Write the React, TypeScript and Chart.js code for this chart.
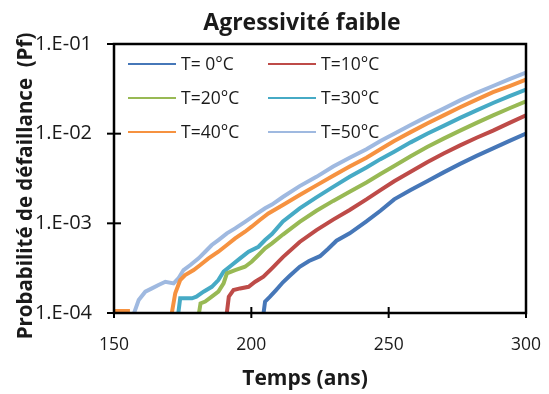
import React, { useEffect, useRef } from 'react';
import { Chart, registerables } from 'chart.js';

Chart.register(...registerables);

const TITLE = 'Agressivité faible';
const X_TITLE = 'Temps (ans)';
const Y_TITLE = 'Probabilité de défaillance  (Pf)';
const SERIES_LABELS = ['T= 0°C', 'T=10°C', 'T=20°C', 'T=30°C', 'T=40°C', 'T=50°C'];
const COLORS = ['#4677B8', '#BE4B48', '#98B954', '#46AAC5', '#F69240', '#9FB9E0'];
const X_TICKS = [150, 200, 250, 300];
const Y_TICKS = [1e-4, 1e-3, 1e-2, 1e-1];
const Y_TICK_LABELS = ['1.E-04', '1.E-03', '1.E-02', '1.E-01'];

const T0_YEARS = [203.5, 205, 206.8, 209, 211.5, 214, 217.6, 221, 225, 228, 231, 235.8, 241.9, 247, 252, 258, 264, 270, 276, 282, 288, 294, 300];
const T0_PF = [0.6e-4, 1.34e-4, 1.52e-4, 1.8e-4, 2.2e-4, 2.6e-4, 3.28e-4, 3.8e-4, 4.3e-4, 5.2e-4, 6.4e-4, 7.74e-4, 1.05e-3, 1.38e-3, 1.85e-3, 2.35e-3, 2.95e-3, 3.7e-3, 4.6e-3, 5.65e-3, 6.85e-3, 8.3e-3, 1.0e-2];

const T10_YEARS = [190.2, 191.8, 193.5, 195.9, 199, 201.4, 204.4, 207.5, 211.5, 217.6, 223.7, 229.8, 235.8, 241.9, 247, 252, 258, 264, 270, 276, 282, 288, 294, 300];
const T10_PF = [0.6e-4, 1.52e-4, 1.8e-4, 1.88e-4, 1.96e-4, 2.23e-4, 2.54e-4, 3.15e-4, 4.2e-4, 6.2e-4, 8.4e-4, 1.1e-3, 1.41e-3, 1.85e-3, 2.35e-3, 2.95e-3, 3.75e-3, 4.8e-3, 6.0e-3, 7.4e-3, 9.0e-3, 1.08e-2, 1.32e-2, 1.6e-2];

const T20_YEARS = [179.8, 181.5, 183.2, 185.6, 188, 189.9, 191.1, 194.1, 197.7, 200.1, 202.6, 205, 207.5, 211.5, 217.6, 223.7, 229.8, 235.8, 241.9, 247, 252, 258, 264, 270, 276, 282, 288, 294, 300];
const T20_PF = [0.6e-4, 1.28e-4, 1.34e-4, 1.52e-4, 1.73e-4, 2.14e-4, 2.77e-4, 3.01e-4, 3.28e-4, 3.73e-4, 4.43e-4, 5.26e-4, 5.98e-4, 7.5e-4, 1.04e-3, 1.38e-3, 1.78e-3, 2.25e-3, 2.85e-3, 3.55e-3, 4.35e-3, 5.6e-3, 7.1e-3, 8.8e-3, 1.08e-2, 1.32e-2, 1.6e-2, 1.92e-2, 2.3e-2];

const T30_YEARS = [172.5, 174.1, 178.4, 180, 182.6, 185.6, 188, 189.9, 192.9, 195.9, 199, 202.6, 205, 207.5, 211.5, 217.6, 223.7, 229.8, 235.8, 241.9, 247, 252, 258, 264, 270, 276, 282, 288, 294, 300];
const T30_PF = [0.6e-4, 1.46e-4, 1.46e-4, 1.52e-4, 1.73e-4, 1.96e-4, 2.33e-4, 2.89e-4, 3.43e-4, 4.07e-4, 4.82e-4, 5.48e-4, 6.51e-4, 7.6e-4, 1.05e-3, 1.47e-3, 1.95e-3, 2.55e-3, 3.3e-3, 4.2e-3, 5.2e-3, 6.3e-3, 8.0e-3, 1.0e-2, 1.22e-2, 1.5e-2, 1.82e-2, 2.2e-2, 2.62e-2, 3.1e-2];

const T40_YEARS = [150, 155.8, 156, 169.8, 172.3, 174.1, 175.9, 179, 181.4, 184.4, 188, 191.1, 194.1, 197.7, 200.1, 203.1, 206.2, 211.5, 217.6, 223.7, 229.8, 235.8, 241.9, 247, 252, 258, 264, 270, 276, 282, 288, 294, 300];
const T40_PF = [1.05e-4, 1.05e-4, null, 0.6e-4, 1.66e-4, 2.33e-4, 2.65e-4, 3.01e-4, 3.43e-4, 4.07e-4, 4.82e-4, 5.73e-4, 6.8e-4, 8.06e-4, 9.17e-4, 1.09e-3, 1.29e-3, 1.6e-3, 2.07e-3, 2.65e-3, 3.4e-3, 4.3e-3, 5.4e-3, 6.7e-3, 8.3e-3, 1.04e-2, 1.3e-2, 1.6e-2, 1.97e-2, 2.4e-2, 2.9e-2, 3.4e-2, 4.0e-2];

const T50_YEARS = [156.5, 159, 161.4, 163.8, 166.2, 168.7, 171.7, 173.5, 175.3, 177.8, 180.8, 183.2, 185.6, 188, 191.1, 194.1, 197.7, 201.4, 205, 207.5, 211.6, 217.6, 223.7, 229.8, 235.8, 241.9, 247, 252, 258, 264, 270, 276, 282, 288, 294, 300];
const T50_PF = [0.85e-4, 1.4e-4, 1.73e-4, 1.88e-4, 2.05e-4, 2.23e-4, 2.14e-4, 2.44e-4, 3.01e-4, 3.43e-4, 4.07e-4, 4.82e-4, 5.73e-4, 6.51e-4, 7.73e-4, 8.79e-4, 1.04e-3, 1.24e-3, 1.47e-3, 1.62e-3, 1.98e-3, 2.6e-3, 3.3e-3, 4.3e-3, 5.4e-3, 6.7e-3, 8.3e-3, 1.0e-2, 1.25e-2, 1.55e-2, 1.9e-2, 2.35e-2, 2.85e-2, 3.4e-2, 4.05e-2, 4.8e-2];

const SERIES_YEARS = [T0_YEARS, T10_YEARS, T20_YEARS, T30_YEARS, T40_YEARS, T50_YEARS];
const SERIES_PF = [T0_PF, T10_PF, T20_PF, T30_PF, T40_PF, T50_PF];

const FONT = '"Open Sans", Lato, sans-serif';
const TEXT_COLOR = '#1a1a1a';

const overlayPlugin = {
  id: 'overlay',
  afterDatasetsDraw(chart: any) {
    const { ctx, chartArea: a } = chart;
    ctx.save();
    const colX = [a.left + 14, a.left + 154];
    const rowY = [a.top + 20, a.top + 54, a.top + 88];
    chart.data.datasets.forEach((ds: any, i: number) => {
      const col = i % 2;
      const row = Math.floor(i / 2);
      const x0 = colX[col];
      const y0 = rowY[row];
      ctx.strokeStyle = ds.borderColor;
      ctx.lineWidth = 2;
      ctx.beginPath();
      ctx.moveTo(x0, y0);
      ctx.lineTo(x0 + 48, y0);
      ctx.stroke();
      ctx.fillStyle = TEXT_COLOR;
      ctx.font = `17.5px ${FONT}`;
      ctx.textAlign = 'left';
      ctx.textBaseline = 'alphabetic';
      ctx.fillText(ds.label, x0 + 53, y0 + 6);
    });
    ctx.restore();
  },
  afterDraw(chart: any) {
    const { ctx, chartArea: a, scales } = chart;
    ctx.save();
    ctx.strokeStyle = '#000';
    ctx.lineWidth = 2.5;
    ctx.strokeRect(a.left, a.top, a.right - a.left, a.bottom - a.top);
    ctx.lineWidth = 2;
    X_TICKS.forEach((v) => {
      const px = scales.x.getPixelForValue(v);
      ctx.beginPath();
      ctx.moveTo(px, a.bottom - 6);
      ctx.lineTo(px, a.bottom + 5);
      ctx.stroke();
    });
    Y_TICKS.forEach((v) => {
      const py = scales.y.getPixelForValue(v);
      ctx.beginPath();
      ctx.moveTo(a.left - 7, py);
      ctx.lineTo(a.left + 7, py);
      ctx.stroke();
    });
    ctx.fillStyle = TEXT_COLOR;
    ctx.textAlign = 'center';
    ctx.textBaseline = 'alphabetic';
    ctx.font = `bold 23px ${FONT}`;
    ctx.fillText(TITLE, 302, 30);
    ctx.font = `bold 21px ${FONT}`;
    ctx.fillText(X_TITLE, 305, 385);
    ctx.translate(32, 186);
    ctx.rotate(-Math.PI / 2);
    ctx.font = `bold 20.5px ${FONT}`;
    ctx.fillText(Y_TITLE, 0, 0);
    ctx.restore();
  },
};

export default function App() {
  const canvasRef = useRef<HTMLCanvasElement>(null);

  useEffect(() => {
    if (!canvasRef.current) return;
    const datasets = SERIES_LABELS.map((label, i) => ({
      label,
      data: SERIES_YEARS[i].map((x, j) => ({ x, y: SERIES_PF[i][j] })),
      borderColor: COLORS[i],
      backgroundColor: COLORS[i],
      borderWidth: 4,
      pointRadius: 0,
      tension: 0,
      fill: false,
      spanGaps: false,
    }));
    const chart = new Chart(canvasRef.current, {
      type: 'line',
      data: { datasets },
      plugins: [overlayPlugin],
      options: {
        animation: false,
        responsive: false,
        layout: { padding: { left: 0, right: 23, top: 44, bottom: 0 } },
        plugins: {
          legend: { display: false },
          title: { display: false },
          tooltip: { enabled: false },
        },
        scales: {
          x: {
            type: 'linear',
            min: 150,
            max: 300,
            grid: { display: false, drawTicks: false },
            border: { display: false },
            afterBuildTicks: (scale: any) => {
              scale.ticks = X_TICKS.map((v) => ({ value: v }));
            },
            afterFit: (scale: any) => {
              scale.height = 81;
              scale.paddingLeft = 0;
              scale.paddingRight = 0;
            },
            ticks: {
              padding: 22,
              maxRotation: 0,
              color: TEXT_COLOR,
              font: { family: FONT, size: 17.5 },
              callback: (v: any) => String(v),
            },
          },
          y: {
            type: 'logarithmic',
            min: 1e-4,
            max: 1e-1,
            grid: { display: false, drawTicks: false },
            border: { display: false },
            afterBuildTicks: (scale: any) => {
              scale.ticks = Y_TICKS.map((v) => ({ value: v }));
            },
            afterFit: (scale: any) => {
              scale.width = 114;
              scale.paddingTop = 0;
              scale.paddingBottom = 0;
            },
            ticks: {
              padding: 22,
              color: TEXT_COLOR,
              font: { family: FONT, size: 20 },
              callback: (_v: any, i: number) => Y_TICK_LABELS[i],
            },
          },
        },
      },
    });
    return () => chart.destroy();
  }, []);

  return (
    <div style={{ position: 'absolute', left: 0, top: 0, width: 549, height: 394, background: '#fff' }}>
      <canvas ref={canvasRef} width={549} height={394} style={{ display: 'block' }} />
    </div>
  );
}
